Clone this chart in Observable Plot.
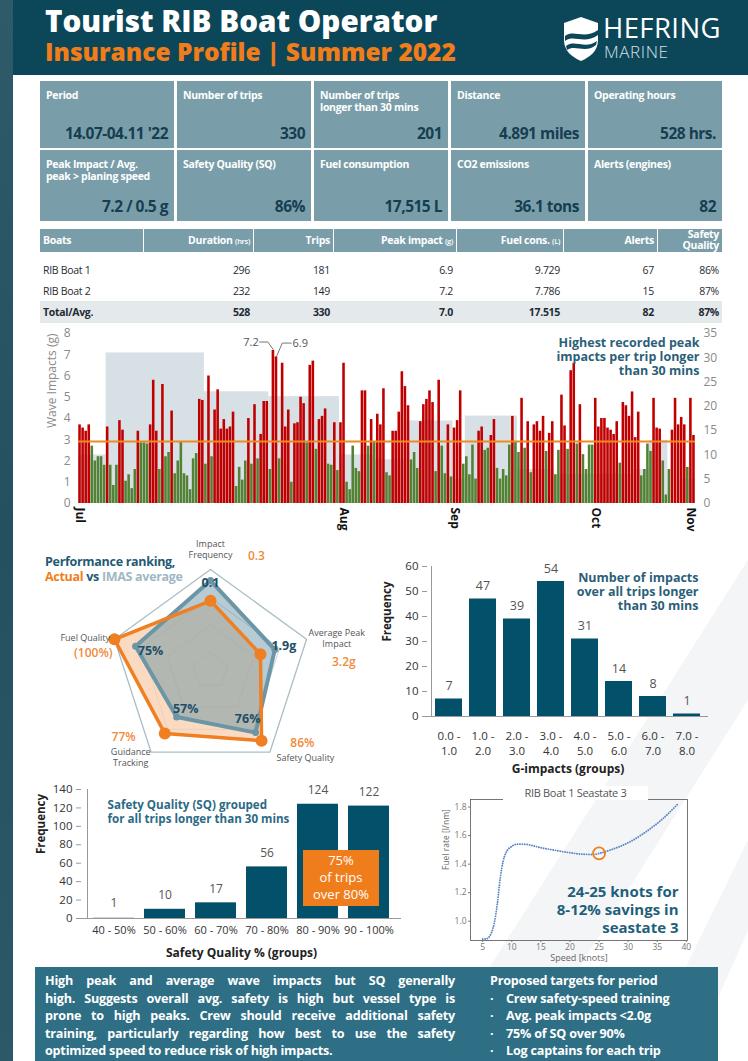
<!DOCTYPE html>
<html><head><meta charset="utf-8">
<script src="https://cdn.jsdelivr.net/npm/d3@7"></script>
<script src="https://cdn.jsdelivr.net/npm/@observablehq/plot@0.6"></script>
<style>
body{margin:0;background:#fff;}
#page{position:relative;width:748px;height:1061px;overflow:hidden;background:#fff;font-family:"Open Sans",sans-serif;}
.abs{position:absolute;}
.kpi{position:absolute;background:#7a9ea9;color:#fff;box-sizing:border-box;}
.kpi .lab{position:absolute;left:6px;top:8px;font-size:10.5px;font-weight:700;line-height:12px;white-space:pre;letter-spacing:-0.3px;}
.kpi .val{position:absolute;right:6px;bottom:4px;font-size:15.5px;font-weight:700;color:#163e52;letter-spacing:-0.5px;}
.th{position:absolute;top:229px;height:23px;background:#7a9ea9;color:#fff;font-size:10.5px;font-weight:700;box-sizing:border-box;padding:0 3px;line-height:23px;letter-spacing:-0.3px;}
.td{position:absolute;font-size:10.5px;color:#1f2c33;box-sizing:border-box;padding:0 3px;letter-spacing:-0.3px;}
.jl{text-align:justify;text-align-last:justify;white-space:nowrap;}
</style></head>
<body><div id="page">
<svg class="abs" style="left:0;top:0" width="748" height="1061">
<polygon points="748,560 748,700 520,1061 430,1061" fill="#f3f5f6"/>
<polygon points="748,840 748,930 690,1061 640,1061" fill="#f3f5f6"/>
</svg>
<div class="abs" style="left:0;top:0;width:13px;height:1061px;background:linear-gradient(180deg,#2f5a69,#24505f 50%,#2c5868);"></div>
<div class="abs" style="left:13px;top:0;width:735px;height:75px;background:#0c4659;"></div>
<div class="abs" style="left:45px;top:6px;font-size:29.6px;line-height:30px;font-weight:800;color:#fff;letter-spacing:0;">Tourist RIB Boat Operator</div>
<div class="abs" style="left:45px;top:39px;font-size:24.5px;line-height:25px;font-weight:800;color:#f07d1a;letter-spacing:0;">Insurance Profile | Summer 2022</div>
<svg class="abs" style="left:562px;top:16px" width="38" height="46" viewBox="0 0 38 46">
<path d="M19 1 L36 7 L36 24 C36 35 28 41 19 45 C10 41 2 35 2 24 L2 7 Z" fill="#fff"/>
<path d="M3 20 C12 13 22 24 36 14 L36 19 C22 29 12 18 3 25 Z" fill="#0c4659"/>
<path d="M4 30 C13 23 23 34 35 25 L34 29 C23 38 13 28 5 34 Z" fill="#0c4659"/>
</svg>
<div class="abs" style="left:603px;top:14px;font-size:27.5px;line-height:27px;font-weight:500;color:#fff;letter-spacing:0.4px;">HEFRING</div>
<div class="abs" style="left:604px;top:44px;font-size:17px;line-height:16px;font-weight:300;color:#d5e0e5;letter-spacing:0.6px;">MARINE</div>
<div id="kpis"></div>
<div id="table"></div>
<div id="wave" class="abs" style="left:30px;top:325px;"></div>
<div id="radar" class="abs" style="left:30px;top:535px;"></div>
<div class="abs" style="left:45px;top:555px;font-size:12.5px;font-weight:700;line-height:14.5px;color:#1f5b75;letter-spacing:-0.3px;">Performance ranking,<br><span style="color:#f07f1a">Actual</span> vs <span style="color:#9fb8c2">IMAS average</span></div>
<div id="ghist" class="abs" style="left:375px;top:555px;"></div>
<div id="sqhist" class="abs" style="left:30px;top:780px;"></div>
<div class="abs" style="left:303px;top:850px;width:76px;height:56px;background:#ef7d1c;color:#fff;font-size:13px;line-height:17px;text-align:center;padding-top:2px;box-sizing:border-box;">75%<br>of trips<br>over 80%</div>
<div id="fuel" class="abs" style="left:440px;top:780px;"></div>
<div class="abs" style="left:503px;top:786px;width:145px;background:#fff;text-align:center;font-size:11px;line-height:14px;color:#555;letter-spacing:-0.3px;">RIB Boat 1 Seastate 3</div>
<div class="abs" style="left:35px;top:967px;width:683px;height:94px;background:#2f6f85;"></div>
<div id="para" class="abs" style="left:45px;top:972px;width:410px;font-size:12.6px;font-weight:700;line-height:17.6px;color:#fff;letter-spacing:-0.2px;"></div>
<div id="targets" class="abs" style="left:490px;top:972px;font-size:12.6px;font-weight:700;line-height:17.6px;color:#fff;letter-spacing:-0.2px;"></div>
</div>
<script>
// ---------- KPI data ----------
const kpiLabels = ["Period","Number of trips","Number of trips\nlonger than 30 mins","Distance","Operating hours",
  "Peak Impact / Avg.\npeak > planing speed","Safety Quality (SQ)","Fuel consumption","CO2 emissions","Alerts (engines)"];
const kpiValues = ["14.07-04.11 '22","330","201","4.891 miles","528 hrs.","7.2 / 0.5 g","86%","17,515 L","36.1 tons","82"];

// ---------- table data ----------
const tableHeader = ["Boats","Duration","Trips","Peak impact","Fuel cons.","Alerts","Safety\nQuality"];
const tableUnits = ["","(hrs)","","(g)","(L)","",""];
const boats = ["RIB Boat 1","RIB Boat 2","Total/Avg."];
const duration = ["296","232","528"];
const trips = ["181","149","330"];
const peakImpact = ["6.9","7.2","7.0"];
const fuelCons = ["9.729","7.786","17.515"];
const alerts = ["67","15","82"];
const safetyQuality = ["86%","87%","87%"];

// ---------- wave impacts (g), trips longer than 30 mins ----------
const waveG = [3.7,3.55,3.4,3.7,2.7,2.0,2.2,2.2,1.8,3.6,1.8,0.85,1.8,3.9,3.45,1.05,1.35,0.7,1.6,3.4,
 2.85,2.85,2.8,3.7,5.8,3.4,1.6,5.6,2.2,2.4,4.35,1.4,2.0,2.9,1.4,1.3,0.65,2.1,2.35,4.9,
 4.85,1.85,6.0,2.2,4.4,5.35,3.5,3.95,3.5,3.6,4.3,0.8,1.7,1.1,2.0,4.0,1.85,4.65,2.1,3.25,
 4.8,4.8,1.6,7.2,6.9,2.1,6.6,3.6,4.4,1.0,3.75,3.8,5.0,4.7,2.85,6.5,6.7,2.55,3.95,4.1,
 4.45,1.85,1.8,3.8,1.55,3.8,6.6,1.0,0.65,2.7,1.65,1.5,5.3,5.3,2.7,3.95,2.9,4.2,3.7,5.4,
 1.45,1.3,3.4,3.4,4.3,6.2,5.5,4.6,2.05,2.4,1.65,3.85,4.65,4.9,5.3,4.75,1.5,5.8,2.7,1.4,
 3.7,1.25,3.55,3.9,5.3,1.85,2.2,1.35,2.75,1.15,3.4,3.6,2.5,2.6,3.2,3.95,1.65,1.15,1.6,1.3,
 2.75,4.1,2.9,2.4,4.95,2.6,3.85,1.45,3.7,3.85,3.4,4.1,2.45,3.3,3.85,1.35,2.5,5.1,3.65,2.55,
 6.25,6.6,2.8,4.65,2.3,1.6,2.75,2.75,4.95,3.6,4.0,4.0,3.55,3.45,3.25,3.85,1.9,4.75,4.6,4.1,
 5.25,3.1,4.3,1.3,1.6,2.8,2.45,4.95,3.55,3.5,2.0,0.4,1.6,3.45,4.95,3.7,4.05,3.7,1.7,4.95,3.2];
const thresholdR = 12.75;            // orange line, right-axis units
// background steps (right-axis units 0-35)
const bgStart = [0,9,41,62,85,96,107,122,126,143,155,181,186,192,196];
const bgEnd   = [9,41,62,85,96,107,122,126,143,155,181,186,192,196,201];
const bgValue = [10,31,23,22,10,9,17,5,18,7,6,7,13,0,5];
const monthIdx = [0,86,122,168,199];
const monthLabels = ["Jul","Aug","Sep","Oct","Nov"];
const leftTicks = [0,1,2,3,4,5,6,7,8];
const rightTicks = [0,5,10,15,20,25,30,35];

// ---------- radar ----------
const radarAxes = ["Impact\nFrequency","Average Peak\nImpact","Safety Quality","Guidance\nTracking","Fuel Quality"];
const actualScore = [0.69,0.52,0.86,0.77,1.0];
const imasScore = [0.89,0.67,0.76,0.57,0.78];
const actualLabels = ["0.3","3.2g","86%","77%","(100%)"];
const imasLabels = ["0.1","1.9g","76%","57%","75%"];
const gridLevels = [0.18,0.45,0.72,1.0];

// ---------- G-impacts histogram ----------
const gGroups = ["0.0 -\n1.0","1.0 -\n2.0","2.0 -\n3.0","3.0 -\n4.0","4.0 -\n5.0","5.0 -\n6.0","6.0 -\n7.0","7.0 -\n8.0"];
const gCounts = [7,47,39,54,31,14,8,1];

// ---------- SQ histogram ----------
const sqGroups = ["40 - 50%","50 - 60%","60 - 70%","70 - 80%","80 - 90%","90 - 100%"];
const sqCounts = [1,10,17,56,124,122];

// ---------- fuel curve ----------
const speedKn = [5,5.5,6,6.5,7,7.5,8,8.5,9,10,11,12,13,15,17,20,22,24,25,27,30,33,36,38.5];
const fuelRate = [0.875,0.875,0.885,0.92,0.99,1.12,1.3,1.42,1.48,1.525,1.54,1.54,1.535,1.515,1.5,1.48,1.47,1.468,1.475,1.5,1.55,1.625,1.72,1.82];
const optimum = [25, 1.475];

// ---------- texts ----------
const paraLines = ["High peak and average wave impacts but SQ generally",
 "high. Suggests overall avg. safety is high but vessel type is",
 "prone to high peaks. Crew should receive additional safety",
 "training, particularly regarding how best to use the safety",
 "optimized speed to reduce risk of high impacts."];
const targetsTitle = "Proposed targets for period";
const targets = ["Crew safety-speed training","Avg. peak impacts <2.0g","75% of SQ over 90%","Log captains for each trip"];

const font = "'Open Sans', sans-serif";

// ===== KPI boxes =====
const kpiX = [40,177,314,451,588], kpiY = [81,150], kpiH = [67,71];
const kpis = document.getElementById("kpis");
kpiLabels.forEach((l,i)=>{
  const r = Math.floor(i/5), c = i%5;
  const d = document.createElement("div");
  d.className="kpi";
  d.style.left=kpiX[c]+"px"; d.style.top=kpiY[r]+"px"; d.style.width="134px"; d.style.height=kpiH[r]+"px";
  d.innerHTML = `<div class="lab">${l}</div><div class="val">${kpiValues[i]}</div>`;
  kpis.appendChild(d);
});

// ===== table =====
const colL = [40,144,254,334,457,564,658], colR = [143,253,333,456,563,657,722];
const tbl = document.getElementById("table");
tableHeader.forEach((h,i)=>{
  const d = document.createElement("div");
  d.className="th";
  d.style.left=colL[i]+"px"; d.style.width=(colR[i]-colL[i])+"px";
  d.style.textAlign = i===0?"left":"right";
  if (h.includes("\n")) { d.style.lineHeight="11px"; d.style.whiteSpace="pre"; }
  d.innerHTML = h + (tableUnits[i] ? ` <span style="font-size:7.5px;font-weight:600">${tableUnits[i]}</span>` : "");
  tbl.appendChild(d);
});
const rowsTop = [259,280,301];
const bg = document.createElement("div");
bg.className="abs"; bg.style.cssText="left:40px;top:301px;width:682px;height:22px;background:#e4e9ec;";
tbl.appendChild(bg);
const cols = [boats,duration,trips,peakImpact,fuelCons,alerts,safetyQuality];
boats.forEach((b,r)=>{
  cols.forEach((col,i)=>{
    const d = document.createElement("div");
    d.className="td";
    d.style.left=colL[i]+"px"; d.style.width=(colR[i]-colL[i])+"px";
    d.style.top=rowsTop[r]+"px"; d.style.height="22px"; d.style.lineHeight="22px";
    d.style.textAlign = i===0?"left":"right";
    if (r===2) d.style.fontWeight="700";
    d.textContent = col[r];
    tbl.appendChild(d);
  });
});

// ===== wave chart =====
const gPerR = 8/35;
const waveData = waveG.map((g,i)=>({i,g}));
const bgData = bgStart.map((s,k)=>({s, e:bgEnd[k], r:bgValue[k]}));
const thr = thresholdR*gPerR;
const i72 = waveG.indexOf(7.2), i69 = waveG.indexOf(6.9);
const wave = Plot.plot({
  width: 700, height: 210, marginLeft: 48, marginRight: 35, marginTop: 8, marginBottom: 32,
  style: {fontFamily: font, fontSize: "11px", color: "#8a8a8a", background: "transparent"},
  x: {domain: [0, waveG.length], axis: null},
  y: {domain: [0, 8], axis: null},
  marks: [
    Plot.rectY(bgData, {x1: "s", x2: "e", y: d => d.r*gPerR, fill: "#d6e0e5"}),
    Plot.rectY(waveData, {x1: "i", x2: d => d.i+1, y: "g", fill: d => d.g > thr ? "#c00000" : "#548235", insetLeft: 0.25, insetRight: 0.25}),
    Plot.ruleY([thr], {stroke: "#f0891f", strokeWidth: 2}),
    Plot.axisY({anchor: "left", ticks: leftTicks, tickSize: 0, tickPadding: 8, label: null, fontSize: 12}),
    Plot.axisY({anchor: "right", ticks: rightTicks.map(v => v*gPerR), tickFormat: d => Math.round(d/gPerR), tickSize: 0, tickPadding: 8, label: null, fontSize: 12}),
    Plot.axisX({ticks: monthIdx.map(i => i+0.5), tickFormat: d => monthLabels[monthIdx.indexOf(Math.round(d-0.5))], tickRotate: 90, tickSize: 0, tickPadding: 4, label: null, color: "#111", fontWeight: "bold", fontSize: 12}),
    Plot.text(["Wave Impacts (g)"], {frameAnchor: "top-left", rotate: -90, textAnchor: "end", dx: -31, dy: 0, fontSize: 12, fill: "#8a8a8a"}),
    Plot.text(["Highest recorded peak\nimpacts per trip longer\nthan 30 mins"], {frameAnchor: "top-right", dx: 4, dy: 3, textAnchor: "end", fontSize: 12.5, fontWeight: "bold", fill: "#2b5f79", lineHeight: 1.15}),
    Plot.text([{x: i72-4.3, y: 7.6, t: "7.2"}], {x: "x", y: "y", text: "t", textAnchor: "end", fontSize: 11, fill: "#555"}),
    Plot.text([{x: i69+5.7, y: 7.55, t: "6.9"}], {x: "x", y: "y", text: "t", textAnchor: "start", fontSize: 11, fill: "#555"}),
    Plot.line([[i72-4,7.6],[i72-1.3,7.6],[i72+0.4,7.25]], {stroke: "#777", strokeWidth: 1}),
    Plot.line([[i69+5.3,7.55],[i69+2.4,7.55],[i69+0.6,6.95]], {stroke: "#777", strokeWidth: 1})
  ]
});
document.getElementById("wave").appendChild(wave);

// ===== radar =====
const PX = 101; // pixels per unit radius
const ang = k => Math.PI/2 - k*2*Math.PI/5;
const pt = (k, r) => [r*Math.cos(ang(k)), r*Math.sin(ang(k))];
const poly = scores => scores.map((r,k) => pt(k,r)).concat([pt(0, scores[0])]);
const gridLines = gridLevels.flatMap(l => [0,1,2,3,4,0].map(k => ({x: pt(k,l)[0], y: pt(k,l)[1], l})));
const axisPos = [[0,1.2],[1.25,0.32],[0.94,-0.86],[-0.79,-0.86],[-1.24,0.33]];
const orangePos = [[0.455,1.13],[1.32,0.08],[0.91,-0.72],[-0.86,-0.66],[-1.16,0.17]];
const imasOff = [[0,2],[9,-4],[-8,-14],[9,-8],[15,5]];  // label offsets in px from vertex
const radar = Plot.plot({
  width: 345, height: 240, margin: 0,
  style: {fontFamily: font, background: "transparent"},
  x: {domain: [-180/PX, 165/PX], axis: null},
  y: {domain: [-105/PX, 135/PX], axis: null},
  marks: [
    Plot.line(gridLines, {x: "x", y: "y", z: "l", stroke: d => d.l === 1 ? "#a9bec7" : "#cbd3d7", strokeWidth: d => d.l === 1 ? 1.3 : 1}),
    Plot.line(poly(actualScore), {fill: "#f8cfae", fillOpacity: 0.75, stroke: "none"}),
    Plot.line(poly(imasScore), {fill: "#5d8c9f", fillOpacity: 0.45, stroke: "#6c95a6", strokeWidth: 4, strokeLinejoin: "round"}),
    Plot.line(poly(actualScore), {stroke: "#ef7f22", strokeWidth: 3.5, strokeLinejoin: "round"}),
    Plot.dot(imasScore.map((r,k) => pt(k,r)), {r: 3.5, fill: "#6c95a6"}),
    Plot.dot(actualScore.map((r,k) => pt(k,r)), {r: 6, fill: "#ef7f22"}),
    Plot.text(radarAxes.map((t,k) => ({t, x: axisPos[k][0], y: axisPos[k][1]})), {x: "x", y: "y", text: "t", fontSize: 9, fill: "#555", lineHeight: 1.2}),
    Plot.text(actualLabels.map((t,k) => ({t, x: orangePos[k][0], y: orangePos[k][1]})), {x: "x", y: "y", text: "t", fontSize: 12, fontWeight: 600, fill: "#f08a3c"}),
    Plot.text(imasLabels.map((t,k) => ({t, x: pt(k, imasScore[k])[0] + imasOff[k][0]/PX, y: pt(k, imasScore[k])[1] - imasOff[k][1]/PX})), {x: "x", y: "y", text: "t", fontSize: 12.5, fontWeight: "bold", fill: "#1d4f66"})
  ]
});
document.getElementById("radar").appendChild(radar);

// ===== G-impacts histogram =====
const gData = gGroups.map((g,i) => ({g, c: gCounts[i]}));
const gh = Plot.plot({
  width: 340, height: 225, marginLeft: 52, marginRight: 7, marginTop: 11, marginBottom: 64,
  style: {fontFamily: font, fontSize: "11px", color: "#333", background: "transparent"},
  x: {domain: gGroups, padding: 0.22, axis: null},
  y: {domain: [0, 60], axis: null},
  marks: [
    Plot.barY(gData, {x: "g", y: "c", fill: "#02506a"}),
    Plot.text(gData, {x: "g", y: "c", text: d => String(d.c), dy: -13, fontSize: 12.5, fill: "#555"}),
    Plot.ruleY([0], {stroke: "#999"}),
    Plot.axisY({ticks: [0,10,20,30,40,50,60], tickSize: 5, tickPadding: 4, label: null, fontSize: 11.5, stroke: "#999", fill: "#333"}),
    Plot.ruleX([gGroups[0]], {x: d => d, dx: -17.5, y1: 0, y2: 60, stroke: "#999"}),
    Plot.axisX({tickSize: 0, tickPadding: 12, label: null, fontSize: 11.5, lineHeight: 1.35, fill: "#333"}),
    Plot.text(["Frequency"], {frameAnchor: "left", rotate: -90, dx: -40, fontSize: 11.5, fontWeight: "bold", fill: "#222"}),
    Plot.text(["G-impacts (groups)"], {frameAnchor: "bottom", dy: 56, fontSize: 12, fontWeight: "bold", fill: "#222"}),
    Plot.text(["Number of impacts\nover all trips longer\nthan 30 mins"], {frameAnchor: "top-right", dx: -10, dy: 5, textAnchor: "end", fontSize: 12.5, fontWeight: "bold", fill: "#2b5f79", lineHeight: 1.15})
  ]
});
document.getElementById("ghist").appendChild(gh);

// ===== SQ histogram =====
const sqData = sqGroups.map((g,i) => ({g, c: sqCounts[i]}));
const sq = Plot.plot({
  width: 410, height: 185, marginLeft: 51, marginRight: 39, marginTop: 9, marginBottom: 47,
  style: {fontFamily: font, fontSize: "11px", color: "#333", background: "transparent"},
  x: {domain: sqGroups, padding: 0.2, axis: null},
  y: {domain: [0, 140], axis: null},
  marks: [
    Plot.barY(sqData, {x: "g", y: "c", fill: d => d.c < 2 ? "#c9d3d8" : "#02506a"}),
    Plot.text(sqData, {x: "g", y: "c", text: d => String(d.c), dy: -14, fontSize: 12, fill: "#555"}),
    Plot.ruleY([0], {stroke: "#999"}),
    Plot.ruleX([sqGroups[0]], {x: d => d, dx: -26.5, y1: 0, y2: 140, stroke: "#999"}),
    Plot.axisY({ticks: [0,20,40,60,80,100,120,140], tickSize: 5, tickPadding: 4, label: null, fontSize: 11.5, stroke: "#999", fill: "#333"}),
    Plot.axisX({tickSize: 0, tickPadding: 8, label: null, fontSize: 11, fill: "#333"}),
    Plot.text(["Frequency"], {frameAnchor: "left", rotate: -90, dx: -40, fontSize: 11.5, fontWeight: "bold", fill: "#222"}),
    Plot.text(["Safety Quality % (groups)"], {frameAnchor: "bottom", dy: 38, fontSize: 12, fontWeight: "bold", fill: "#222"}),
    Plot.text(["Safety Quality (SQ) grouped\nfor all trips longer than 30 mins"], {frameAnchor: "top-left", dx: 26, dy: 10, textAnchor: "start", fontSize: 11.6, fontWeight: "bold", fill: "#2b6a85", lineHeight: 1.2})
  ]
});
document.getElementById("sqhist").appendChild(sq);

// ===== fuel curve =====
const fuelData = speedKn.map((s,i) => ({s, f: fuelRate[i]}));
const fuel = Plot.plot({
  width: 260, height: 185, marginLeft: 30, marginRight: 13, marginTop: 19, marginBottom: 25,
  style: {fontFamily: font, fontSize: "8.5px", color: "#777", background: "transparent"},
  x: {domain: [2.9, 40.2], axis: null},
  y: {domain: [0.865, 1.853], axis: null},
  marks: [
    Plot.frame({stroke: "#555", strokeWidth: 0.8}),
    Plot.axisX({ticks: [5,10,15,20,25,30,35,40], tickSize: 2, tickPadding: 1, label: null}),
    Plot.axisY({ticks: [1.0,1.2,1.4,1.6,1.8], tickFormat: d => d.toFixed(1), tickSize: 2, tickPadding: 2, label: null}),
    Plot.line(fuelData, {x: "s", y: "f", curve: "monotone-x", stroke: "#5a86c6", strokeWidth: 1.9, strokeDasharray: "0.01 2.4", strokeLinecap: "round"}),
    Plot.dot([optimum], {r: 6, stroke: "#f07f1a", strokeWidth: 1.8, fill: "none"}),
    Plot.text(["24-25 knots for\n8-12% savings in\nseastate 3"], {frameAnchor: "bottom-right", dx: -9, dy: -8, textAnchor: "end", fontSize: 15, fontWeight: "bold", fill: "#1f5f7b", lineHeight: 1.2}),
    Plot.text(["Speed [knots]"], {frameAnchor: "bottom", dy: 20, fontSize: 9, fill: "#666"}),
    Plot.text(["Fuel rate [l/nm]"], {frameAnchor: "left", rotate: -90, dx: -24, fontSize: 8.5, fill: "#666"})
  ]
});
document.getElementById("fuel").appendChild(fuel);

// ===== bottom texts =====
const esc = s => s.replace(/</g, "&lt;");
document.getElementById("para").innerHTML = paraLines.map((l,i) =>
  `<div class="${i < paraLines.length-1 ? "jl" : ""}" style="white-space:nowrap">${esc(l)}</div>`).join("");
document.getElementById("targets").innerHTML = `<div>${targetsTitle}</div>` +
  targets.map(t => `<div><span style="display:inline-block;width:16px">·</span>${esc(t)}</div>`).join("");
</script>
</body></html>
